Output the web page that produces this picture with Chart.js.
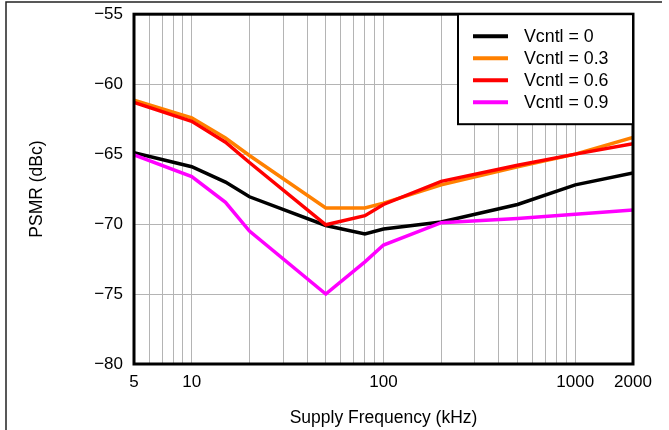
<!DOCTYPE html>
<html>
<head>
<meta charset="utf-8">
<script src="https://cdn.jsdelivr.net/npm/chart.js@4/dist/chart.umd.min.js"></script>
<style>
  body { margin: 0; background: #fff; }
  canvas { display: block; }
</style>
</head>
<body>
<canvas id="psmr-chart" width="669" height="430"></canvas>
<script>
// supply frequency in kHz
const freqs = [5, 10, 15, 20, 50, 80, 100, 200, 500, 1000, 2000];

const seriesLabels = ['Vcntl = 0', 'Vcntl = 0.3', 'Vcntl = 0.6', 'Vcntl = 0.9'];
const seriesColors = ['#000000', '#ff8000', '#ff0000', '#ff00ff'];

const psmrV0  = [-64.9, -65.9, -67.0, -68.05, -70.1, -70.7, -70.35, -69.85, -68.6, -67.2, -66.35];
const psmrV03 = [-61.15, -62.4, -63.85, -65.1, -68.85, -68.85, -68.5, -67.2, -65.9, -65.0, -63.8];
const psmrV06 = [-61.3, -62.65, -64.15, -65.6, -70.05, -69.4, -68.6, -66.95, -65.8, -65.0, -64.25];
const psmrV09 = [-65.05, -66.6, -68.45, -70.5, -75.0, -72.7, -71.5, -69.9, -69.6, -69.3, -69.0];

const gridFreqs = [5, 6, 7, 8, 9, 10, 20, 30, 40, 50, 60, 70, 80, 90, 100,
                   200, 300, 400, 500, 600, 700, 800, 900, 1000, 2000];
const labeledFreqs = [5, 10, 100, 1000, 2000];

const font = "'Liberation Sans', Arial, sans-serif";

function toPoints(ys) {
    return freqs.map((f, i) => ({ x: f, y: ys[i] }));
}

const allSeries = [psmrV0, psmrV03, psmrV06, psmrV09];

// frame round the whole picture (left + top only, like the source)
const pageFrame = {
    id: 'pageFrame',
    beforeDraw(chart) {
        const ctx = chart.ctx;
        ctx.save();
        ctx.fillStyle = '#fff';
        ctx.fillRect(0, 0, chart.width, chart.height);
        ctx.strokeStyle = '#222';
        ctx.lineWidth = 1.5;
        ctx.beginPath();
        ctx.moveTo(6, chart.height);
        ctx.lineTo(6, 2);
        ctx.lineTo(662, 2);
        ctx.stroke();
        ctx.restore();
    }
};

// black box round plot + boxed legend in the top right corner
const plotBox = {
    id: 'plotBox',
    afterDatasetsDraw(chart) {
        const ctx = chart.ctx;
        const a = chart.chartArea;
        ctx.save();
        ctx.strokeStyle = '#000';
        ctx.lineWidth = 3;
        ctx.strokeRect(a.left, a.top, a.right - a.left, a.bottom - a.top);

        const boxW = 175, boxH = 110;
        const bx = a.right - boxW, by = a.top;
        ctx.fillStyle = '#fff';
        ctx.fillRect(bx, by, boxW, boxH);
        ctx.lineWidth = 2;
        ctx.strokeRect(bx, by, boxW, boxH);

        ctx.font = '17.8px ' + font;
        ctx.textBaseline = 'middle';
        ctx.textAlign = 'left';
        chart.data.datasets.forEach((ds, i) => {
            const y = by + 22 + i * 22;
            ctx.strokeStyle = ds.borderColor;
            ctx.lineWidth = 4;
            ctx.beginPath();
            ctx.moveTo(bx + 15, y);
            ctx.lineTo(bx + 50, y);
            ctx.stroke();
            ctx.fillStyle = '#000';
            ctx.fillText(ds.label, bx + 66, y + 1);
        });
        ctx.restore();
    }
};

const ctx = document.getElementById('psmr-chart').getContext('2d');

const chart = new Chart(ctx, {
    type: 'line',
    plugins: [pageFrame, plotBox],
    data: {
        datasets: seriesLabels.map((label, i) => ({
            label: label,
            data: toPoints(allSeries[i]),
            borderColor: seriesColors[i],
            backgroundColor: seriesColors[i],
            borderWidth: 3.5,
            pointRadius: 0,
            tension: 0,
            order: 4 - i
        }))
    },
    options: {
        responsive: false,
        animation: false,
        layout: {
            padding: { left: 0, top: 14, right: 36, bottom: 0 }
        },
        scales: {
            x: {
                type: 'logarithmic',
                min: 5,
                max: 2000,
                afterBuildTicks: (scale) => {
                    scale.ticks = gridFreqs.map(v => ({ value: v }));
                },
                afterFit: (scale) => { scale.height = 66; },
                border: { display: false },
                grid: {
                    color: '#b4b4b4',
                    lineWidth: 1,
                    drawTicks: false
                },
                ticks: {
                    autoSkip: false,
                    maxRotation: 0,
                    padding: 8,
                    color: '#000',
                    font: { family: font, size: 17 },
                    callback: (value) => labeledFreqs.includes(value) ? String(value) : ''
                },
                title: {
                    display: true,
                    text: 'Supply Frequency (kHz)',
                    color: '#000',
                    padding: { top: 0, bottom: 1 },
                    font: { family: font, size: 17.5 }
                }
            },
            y: {
                min: -80,
                max: -55,
                afterFit: (scale) => { scale.width = 134; },
                border: { display: false },
                grid: {
                    color: '#b4b4b4',
                    lineWidth: 1,
                    drawTicks: true,
                    tickLength: 7,
                    tickColor: 'rgba(0,0,0,0)'
                },
                ticks: {
                    stepSize: 5,
                    padding: 4,
                    color: '#000',
                    font: { family: font, size: 17 },
                    callback: (value) => String(value).replace('-', '\u2212')
                },
                title: {
                    display: true,
                    text: 'PSMR (dBc)',
                    color: '#000',
                    padding: { top: 27, bottom: 0 },
                    font: { family: font, size: 17.5 }
                }
            }
        },
        plugins: {
            legend: { display: false },
            tooltip: { enabled: false }
        }
    }
});
</script>
</body>
</html>
